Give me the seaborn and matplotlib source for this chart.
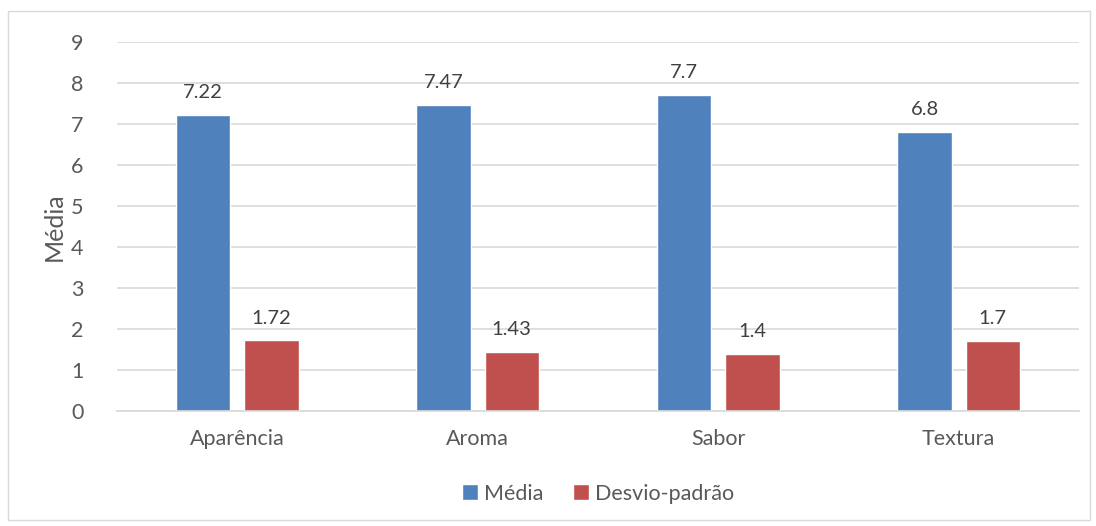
import matplotlib
matplotlib.use('Agg')
import matplotlib.pyplot as plt
import pandas as pd
import seaborn as sns
from matplotlib.patches import Rectangle

# Data
CATEGORIES = ['Aparência', 'Aroma', 'Sabor', 'Textura']
MEDIA = [7.22, 7.47, 7.7, 6.8]
DESVIO = [1.72, 1.43, 1.4, 1.7]
SERIES = ['Média', 'Desvio-padrão']
COLORS = ['#4F81BD', '#C0504D']


def main():
    '''main'''
    sns.set_theme(style='white')
    plt.rcParams['font.family'] = ['Lato', 'DejaVu Sans']

    df = pd.DataFrame({
        'Categoria': CATEGORIES * 2,
        'Valor': MEDIA + DESVIO,
        'Serie': [SERIES[0]] * len(CATEGORIES) + [SERIES[1]] * len(CATEGORIES),
    })

    fig = plt.figure(figsize=(10.96, 5.26), dpi=100)
    ax = fig.add_axes([117 / 1096, 1 - 411 / 526, (1079 - 117) / 1096, (411 - 42) / 526])

    sns.barplot(data=df, x='Categoria', y='Valor', hue='Serie', palette=COLORS,
                width=0.566, gap=0.2, ax=ax, legend=True, saturation=1)

    ax.set_ylim(0, 9)
    ax.set_yticks(range(10))
    ax.yaxis.grid(True, color='#D9D9D9', linewidth=1.2)
    ax.set_axisbelow(True)
    for side in ['top', 'right', 'left']:
        ax.spines[side].set_visible(False)
    ax.spines['bottom'].set_color('#D9D9D9')
    ax.spines['bottom'].set_linewidth(1.2)
    ax.tick_params(axis='both', length=0, labelsize=15.5, labelcolor='#595959')
    ax.tick_params(axis='x', pad=13)
    ax.tick_params(axis='y', pad=24)
    ax.set_xlabel('')
    ax.set_ylabel('Média', fontsize=18, color='#595959', labelpad=4)

    for container in ax.containers:
        ax.bar_label(container, labels=[f'{v:g}' for v in container.datavalues],
                     padding=10, fontsize=14.5, color='#404040')

    handles, labels = ax.get_legend_handles_labels()
    ax.legend(handles, labels, loc='upper center', bbox_to_anchor=(0.5, -0.145),
              ncol=2, frameon=False, fontsize=15.5, handlelength=0.75,
              handleheight=0.75, handletextpad=0.25, columnspacing=1.4,
              labelcolor='#595959')

    # chart area border
    fig.patches.append(Rectangle((8 / 1096, 1 - 520 / 526), 1082 / 1096, 509 / 526,
                                 transform=fig.transFigure, fill=False,
                                 edgecolor='#D9D9D9', linewidth=1))

    fig.savefig('out.png', dpi=100)


if __name__ == '__main__':
    main()
